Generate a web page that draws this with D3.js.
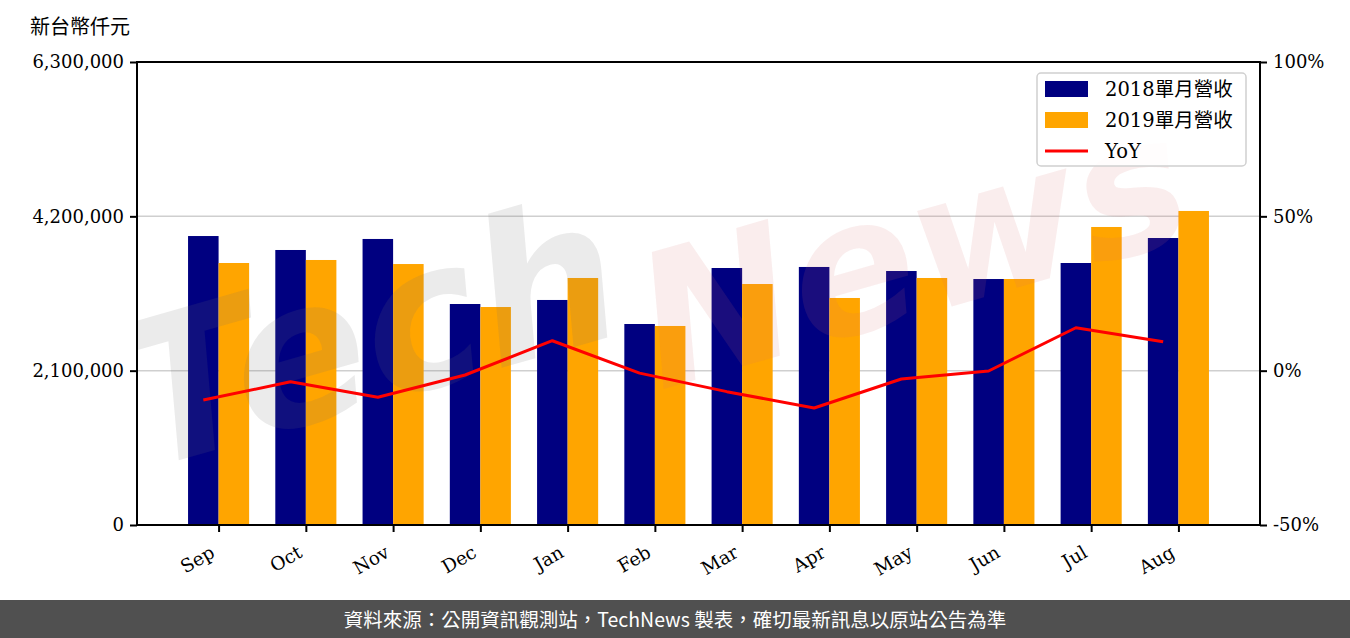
<!DOCTYPE html>
<html><head><meta charset="utf-8">
<script src="https://cdn.jsdelivr.net/npm/d3@7"></script>
<style>
html,body{margin:0;padding:0;background:#fff;}
svg{display:block;}
</style></head>
<body>
<svg id="chart" width="1350" height="638"></svg>
<script>
const categories = ["Sep","Oct","Nov","Dec","Jan","Feb","Mar","Apr","May","Jun","Jul","Aug"];
const rev2018 = [3932000,3742000,3892000,3007000,3062000,2735000,3497000,3511000,3456000,3347000,3565000,3905000];
const rev2019 = [3565000,3606000,3551000,2966000,3361000,2708000,3279000,3089000,3361000,3347000,4055000,4273000];
const yoy = [-9.5,-3.6,-8.6,-1.4,9.7,-0.8,-6.8,-12.1,-2.7,-0.1,13.9,9.4];
const leftTicks = [0,2100000,4200000,6300000];
const rightTicks = [-50,0,50,100];
const seriesNames = ["2018單月營收","2019單月營收","YoY"];
const unitLabel = "新台幣仟元";
const footerText = "資料來源：公開資訊觀測站，TechNews 製表，確切最新訊息以原站公告為準";

const svg = d3.select("#chart");
const W = 1350, H = 638;
const m = {left:137, right:1260, top:62, bottom:525};
const serif = "'DejaVu Serif', 'Liberation Serif', serif";
const cjk = "'Noto Sans CJK TC', 'Noto Sans', sans-serif";
const tickFont = serif + ", " + "'Noto Sans CJK TC'";

const barW = 0.35;
const x = d3.scaleLinear().domain([-0.935, categories.length - 1 + 0.935]).range([m.left, m.right]);
const y = d3.scaleLinear().domain([0, 6300000]).range([m.bottom, m.top]);
const y2 = d3.scaleLinear().domain([-50, 100]).range([m.bottom, m.top]);

svg.append("defs").append("clipPath").attr("id","plotClip").append("rect")
  .attr("x", m.left).attr("y", m.top).attr("width", m.right - m.left).attr("height", m.bottom - m.top);

// grid
svg.append("g").selectAll("line").data(leftTicks.filter(d => d > 0 && d < 6300000)).join("line")
  .attr("x1", m.left).attr("x2", m.right)
  .attr("y1", d => y(d)).attr("y2", d => y(d))
  .attr("stroke", "#cfcfcf").attr("stroke-width", 1.5);

// bars
const gBars = svg.append("g");
gBars.selectAll("rect.b18").data(rev2018).join("rect").attr("class","b18")
  .attr("x", (d,i) => x(i - barW)).attr("width", (d,i) => x(i) - x(i - barW))
  .attr("y", d => y(d)).attr("height", d => y(0) - y(d)).attr("fill", "#000080");
gBars.selectAll("rect.b19").data(rev2019).join("rect").attr("class","b19")
  .attr("x", (d,i) => x(i)).attr("width", (d,i) => x(i + barW) - x(i))
  .attr("y", d => y(d)).attr("height", d => y(0) - y(d)).attr("fill", "#FFA500");

// watermark
const wm = svg.append("g").attr("pointer-events","none").attr("clip-path","url(#plotClip)");
wm.append("text").text("Tech")
  .attr("transform", "translate(145,470) rotate(-16)")
  .attr("font-family", "'DejaVu Sans', sans-serif").attr("font-style","italic").attr("font-weight","bold")
  .attr("font-size", 200).attr("fill", "rgba(110,110,110,0.14)");
wm.append("text").text("News")
  .attr("transform", "translate(660,390) rotate(-16)")
  .attr("font-family", "'DejaVu Sans', sans-serif").attr("font-style","italic").attr("font-weight","bold")
  .attr("font-size", 185).attr("fill", "rgba(215,110,110,0.12)");

// YoY line
const line = d3.line().x((d,i) => x(i - barW/2)).y(d => y2(d));
svg.append("path").datum(yoy).attr("d", line)
  .attr("fill","none").attr("stroke","#ff0000").attr("stroke-width",3).attr("stroke-linejoin","round");

// frame
svg.append("rect").attr("x", m.left).attr("y", m.top).attr("width", m.right - m.left).attr("height", m.bottom - m.top)
  .attr("fill","none").attr("stroke","#000").attr("stroke-width",2);

// left axis
const fmt = d3.format(",");
const axL = svg.append("g").attr("transform", `translate(${m.left},0)`)
  .call(d3.axisLeft(y).tickValues(leftTicks).tickFormat(fmt).tickSize(7).tickPadding(6));
axL.select(".domain").remove();
axL.selectAll("line").attr("stroke","#000").attr("stroke-width",2);
axL.selectAll("text").attr("font-family", tickFont).attr("font-size",18).attr("fill","#000");

// right axis
const axR = svg.append("g").attr("transform", `translate(${m.right},0)`)
  .call(d3.axisRight(y2).tickValues(rightTicks).tickFormat(d => d + "%").tickSize(7).tickPadding(6));
axR.select(".domain").remove();
axR.selectAll("line").attr("stroke","#000").attr("stroke-width",2);
axR.selectAll("text").attr("font-family", tickFont).attr("font-size",18).attr("fill","#000");

// bottom axis
const axB = svg.append("g").attr("transform", `translate(0,${m.bottom})`)
  .call(d3.axisBottom(x).tickValues(d3.range(categories.length)).tickFormat(i => categories[i]).tickSize(7).tickPadding(6));
axB.select(".domain").remove();
axB.selectAll("line").attr("stroke","#000").attr("stroke-width",2);
axB.selectAll("text").attr("font-family", tickFont).attr("font-size",18.5).attr("fill","#000")
  .attr("text-anchor","end").attr("x",0).attr("y",0).attr("dy",0)
  .attr("transform","translate(-3,31) rotate(-30)");

// unit label
svg.append("text").text(unitLabel).attr("x", 30).attr("y", 27).attr("dy","0.35em")
  .attr("font-family", cjk).attr("font-size", 20).attr("fill","#000");

// legend
const lg = svg.append("g").attr("transform","translate(1037,73)");
lg.append("rect").attr("width",209).attr("height",93).attr("rx",4)
  .attr("fill","rgba(255,255,255,0.85)").attr("stroke","#d0d0d0").attr("stroke-width",1.5);
const legendColors = ["#000080","#FFA500","#ff0000"];
seriesNames.forEach((name, i) => {
  const cy = 16 + i * 31;
  if (i < 2) {
    lg.append("rect").attr("x",8).attr("y",cy-8).attr("width",43).attr("height",16).attr("fill",legendColors[i]);
  } else {
    lg.append("line").attr("x1",8).attr("x2",51).attr("y1",cy).attr("y2",cy).attr("stroke",legendColors[i]).attr("stroke-width",3);
  }
  lg.append("text").text(name).attr("x",68).attr("y",cy).attr("dy","0.35em")
    .attr("font-family", tickFont).attr("font-size",19.5).attr("fill","#000");
});

// footer
svg.append("rect").attr("x",0).attr("y",600).attr("width",W).attr("height",38).attr("fill","#505050");
svg.append("text").text(footerText).attr("x", W/2).attr("y", 620).attr("dy","0.35em")
  .attr("text-anchor","middle").attr("font-family", cjk).attr("font-size",19.5).attr("fill","#fff");
</script>
</body></html>
